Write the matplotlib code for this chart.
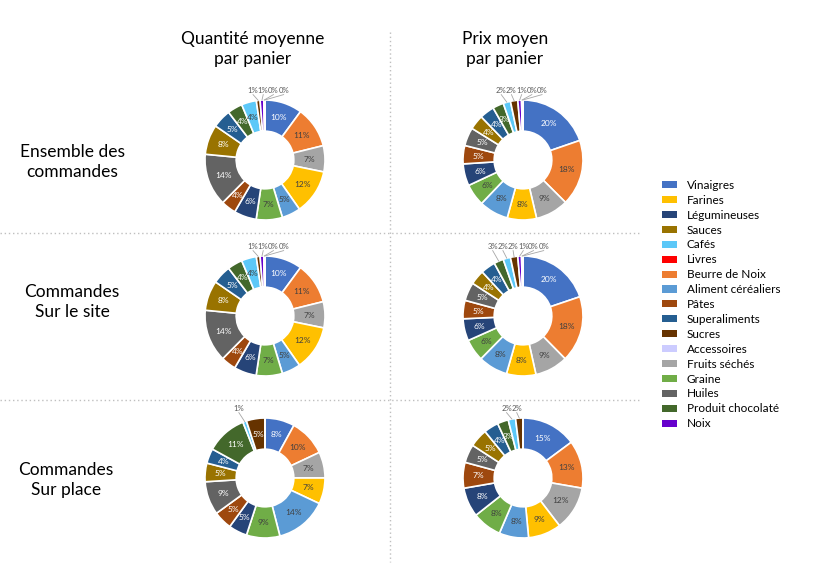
import numpy as np
import matplotlib.pyplot as plt
from matplotlib.patches import Patch
from matplotlib.lines import Line2D

plt.rcParams['font.family'] = ['Lato', 'DejaVu Sans']

# slice order, clockwise from 12 o'clock
categories = ["Vinaigres", "Beurre de Noix", "Fruits séchés", "Farines", "Aliment céréaliers",
              "Graine", "Légumineuses", "Pâtes", "Huiles", "Sauces", "Superaliments",
              "Produit chocolaté", "Cafés", "Sucres", "Noix", "Accessoires", "Livres"]

# percentages
qty_all = [10, 11, 7, 12, 5, 7, 6, 4, 14, 8, 5, 4, 4, 1, 1, 0.2, 0.1]
price_all = [20, 18, 9, 8, 8, 6, 6, 5, 5, 4, 4, 3, 2, 2, 1, 0.3, 0.1]
qty_site = [10, 11, 7, 12, 5, 7, 6, 4, 14, 8, 5, 4, 4, 1, 1, 0.2, 0.1]
price_site = [20, 18, 9, 8, 8, 6, 6, 5, 5, 4, 4, 2.6, 2, 2, 1, 0.3, 0.1]
qty_place = [8, 10, 7, 7, 14, 9, 5, 5, 9, 5, 4, 11, 1, 5, 0, 0, 0]
price_place = [15, 13, 12, 9, 8, 8, 8, 7, 5, 5, 4, 3, 2, 2, 0, 0, 0]

legend_order = ["Vinaigres", "Farines", "Légumineuses", "Sauces", "Cafés", "Livres",
                "Beurre de Noix", "Aliment céréaliers", "Pâtes", "Superaliments", "Sucres",
                "Accessoires", "Fruits séchés", "Graine", "Huiles", "Produit chocolaté", "Noix"]

col_titles = ["Quantité moyenne\npar panier", "Prix moyen\npar panier"]
row_titles = ["Ensemble des\ncommandes", "Commandes\nSur le site", "Commandes\nSur place"]

colors = {
    "Vinaigres": "#4472C4", "Farines": "#FFC000", "Légumineuses": "#264478",
    "Sauces": "#997300", "Cafés": "#5CC8F8", "Livres": "#FF0000",
    "Beurre de Noix": "#ED7D31", "Aliment céréaliers": "#5B9BD5", "Pâtes": "#9E480E",
    "Superaliments": "#255E91", "Sucres": "#663300", "Accessoires": "#CCCCFF",
    "Fruits séchés": "#A5A5A5", "Graine": "#70AD47", "Huiles": "#636363",
    "Produit chocolaté": "#43682B", "Noix": "#6600CC",
}

W, H = 826, 571
fig = plt.figure(figsize=(W / 100, H / 100), dpi=100)


def px(x, y):
    return x / W, 1 - y / H


def luminance(hexc):
    r, g, b = [int(hexc[i:i + 2], 16) / 255 for i in (1, 3, 5)]
    return 0.299 * r + 0.587 * g + 0.114 * b


def donut(cx, cy, values):
    size = 150
    ax = fig.add_axes([(cx - size / 2) / W, 1 - (cy + size / 2) / H, size / W, size / H])
    cols = [colors[c] for c in categories]
    ax.pie(values, colors=cols, startangle=90, counterclock=False, radius=1,
           wedgeprops=dict(width=0.52, edgecolor="white", linewidth=1.2))
    ax.set_xlim(-1.25, 1.25)
    ax.set_ylim(-1.25, 1.25)
    ax.set_aspect("equal")
    ax.axis("off")

    total = sum(values)
    cum = 0
    last_x = -9
    for v, c in zip(values, cols):
        mid = np.radians(90 - 360 * (cum + v / 2) / total)
        cum += v
        if v == 0:
            continue
        lab = f"{v:.0f}%"
        if v >= 2.8:
            tc = "white" if luminance(c) < 0.5 else "#404040"
            ax.text(0.74 * np.cos(mid), 0.74 * np.sin(mid), lab, ha="center", va="center",
                    fontsize=6, color=tc)
        else:
            lx = max(1.05 * np.cos(mid) - 0.08, last_x + 0.17)
            last_x = lx
            ax.text(lx, 1.1, lab, ha="center", va="bottom", fontsize=5.6, color="#595959")
            ax.plot([np.cos(mid), lx], [np.sin(mid), 1.09], color="#A6A6A6", lw=0.6,
                    clip_on=False)


centers_x = [265, 523]
centers_y = [160, 316, 478]
data = [[qty_all, price_all], [qty_site, price_site], [qty_place, price_place]]
for i, cy in enumerate(centers_y):
    for j, cx in enumerate(centers_x):
        donut(cx, cy, data[i][j])

# titles
for j, t in enumerate(col_titles):
    fig.text(*px([253, 505][j], 49), t, ha="center", va="center", fontsize=12.5,
             linespacing=1.3)
for i, t in enumerate(row_titles):
    fig.text(*px([72, 72, 66][i], [162, 302, 480][i]), t, ha="center", va="center",
             fontsize=12.5, linespacing=1.3)

# dotted separators
dot = dict(color="#BFBFBF", lw=1, ls=(0, (1, 2)))
fig.add_artist(Line2D([390 / W, 390 / W], [1 - 32 / H, 1 - 562 / H], **dot))
for yy in [233, 400]:
    fig.add_artist(Line2D([0, 640 / W], [1 - yy / H, 1 - yy / H], **dot))

handles = [Patch(facecolor=colors[c], edgecolor="none") for c in legend_order]
fig.legend(handles, legend_order, loc="upper left", bbox_to_anchor=px(656, 174),
           frameon=False, fontsize=8.5, handlelength=1.3, handleheight=0.55,
           handletextpad=0.8, labelspacing=0.33, borderpad=0)

fig.savefig("out.png", dpi=100)
